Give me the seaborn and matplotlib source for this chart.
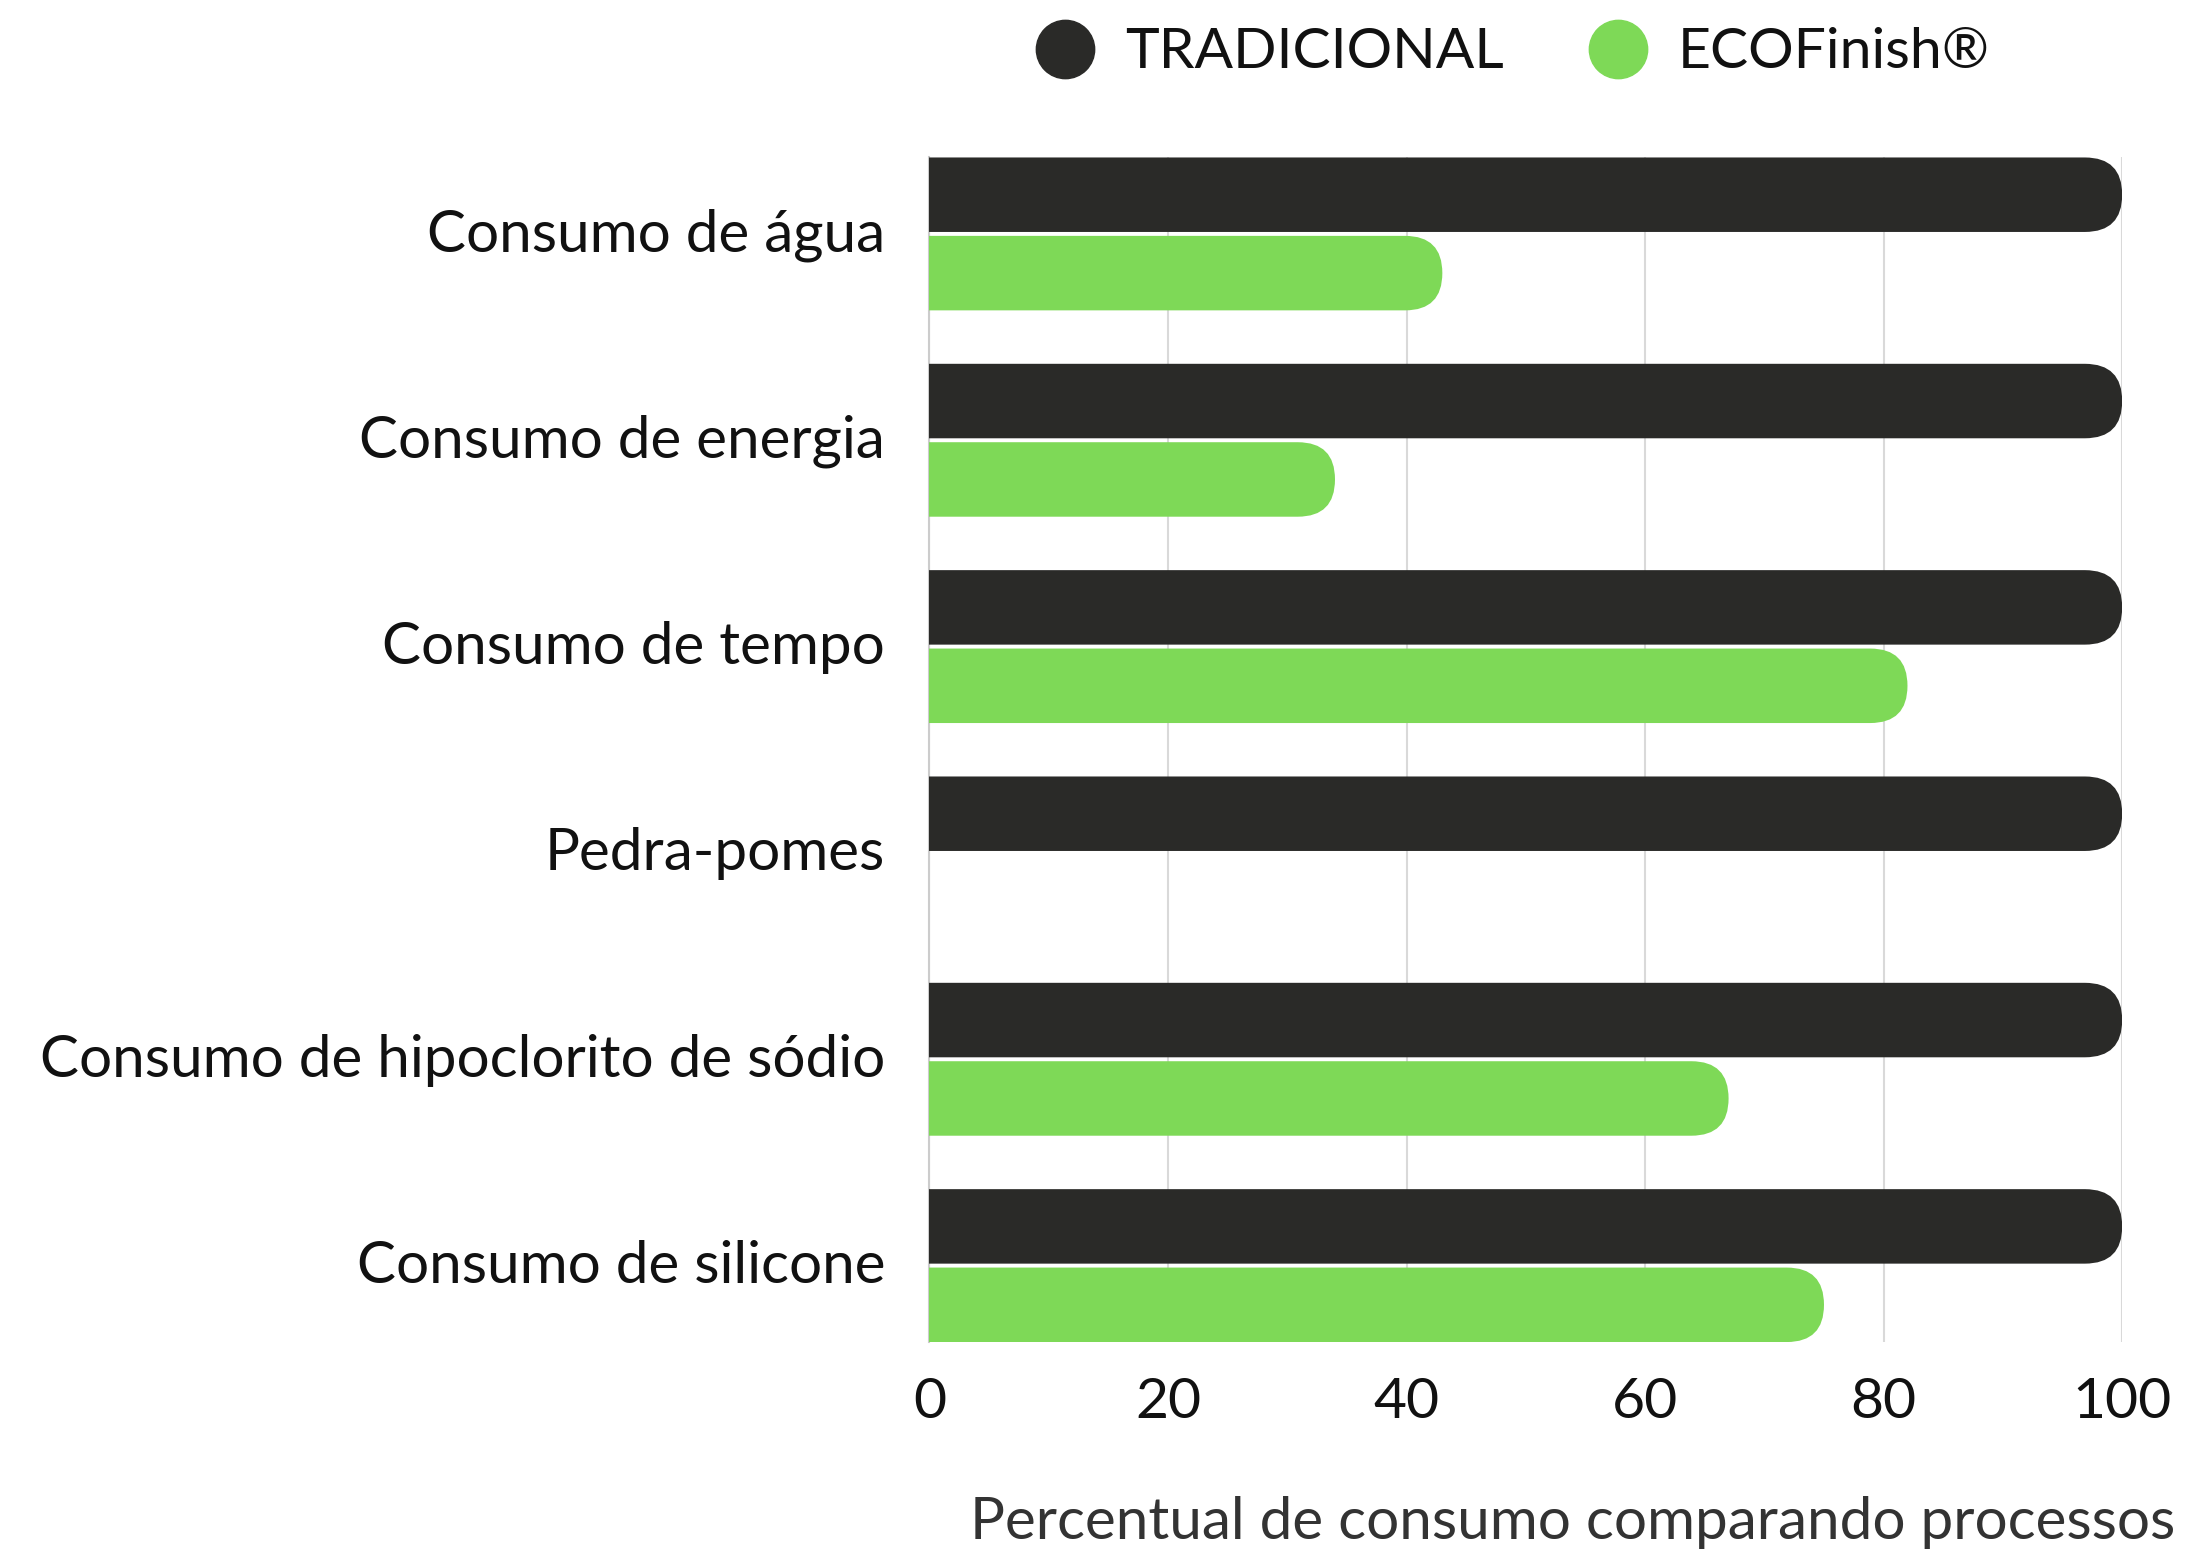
import numpy as np
import pandas as pd
import seaborn as sns
import matplotlib.pyplot as plt
import matplotlib.transforms as mtransforms
from matplotlib.patches import FancyBboxPatch
from matplotlib.lines import Line2D

# dados (percentual de consumo)
categorias = ["Consumo de água", "Consumo de energia", "Consumo de tempo",
              "Pedra-pomes", "Consumo de hipoclorito de sódio", "Consumo de silicone"]
tradicional = [100, 100, 100, 100, 100, 100]
ecofinish = [43, 34, 82, 0, 67, 75]
series = ["TRADICIONAL", "ECOFinish®"]
cores = ["#2a2a28", "#7ed957"]
xticks = [0, 20, 40, 60, 80, 100]

df = pd.DataFrame({
    "categoria": categorias * 2,
    "processo": [series[0]] * len(categorias) + [series[1]] * len(categorias),
    "valor": tradicional + ecofinish,
})

sns.set_theme(style="white")
plt.rcParams['font.family'] = ['Lato', 'DejaVu Sans']

fig = plt.figure(figsize=(21.86, 15.56), dpi=100)
ax = fig.add_axes([0.4252, 0.1375, 0.5456, 0.7613])
sns.barplot(data=df, y="categoria", x="valor", hue="processo", palette=cores,
            orient="h", width=0.76, gap=0.05, saturation=1, legend=False, ax=ax)

ylo, yhi = -0.3705, len(categorias) - 1 + 0.3705
ax.set_xlim(0, 100)
ax.set_ylim(yhi, ylo)

# pontas arredondadas nas barras
bb = ax.get_window_extent()
px_x = bb.width / 100
px_y = bb.height / (yhi - ylo)
for bar in list(ax.patches):
    x0, y0, w, h = bar.get_x(), bar.get_y(), bar.get_width(), bar.get_height()
    fc = bar.get_facecolor()
    bar.remove()
    if w <= 0:
        continue
    ry = abs(h) / 2
    rx = ry * px_y / px_x
    p = FancyBboxPatch((x0 - rx, y0), w + rx, h,
                       boxstyle=f"round,pad=0,rounding_size={rx}",
                       mutation_aspect=ry / rx, fc=fc, ec="none", lw=0, zorder=3)
    ax.add_patch(p)

ax.set_axisbelow(True)
ax.grid(axis="x", color="#d9d9d9", lw=1.5)
ax.grid(axis="y", visible=False)
for s in ["top", "right", "bottom"]:
    ax.spines[s].set_visible(False)
ax.spines["left"].set_color("#cccccc")
ax.spines["left"].set_linewidth(1.5)

ax.set_xticks(xticks)
ax.tick_params(axis="x", length=0, labelsize=41, pad=25, colors="#111111")
ax.tick_params(axis="y", length=0, labelsize=42, pad=32, colors="#111111")
# sobe um pouco os rótulos das categorias
desloc = mtransforms.ScaledTranslation(0, 3 / 72, fig.dpi_scale_trans)
for t in ax.get_yticklabels():
    t.set_transform(t.get_transform() + desloc)
ax.set_xlabel("")
ax.set_ylabel("")

fig.text(0.995, 0.011, "Percentual de consumo comparando processos",
         ha="right", va="baseline", fontsize=42, color="#333333")

handles = [Line2D([], [], marker="o", ls="", ms=42, color=c) for c in cores]
fig.legend(handles, series, loc="center left", bbox_to_anchor=(1037 / 2186, 1 - 53 / 1556),
           ncol=2, frameon=False, fontsize=41, handlelength=1, handletextpad=0.55,
           columnspacing=1.5, borderpad=0, borderaxespad=0, labelcolor="#111111")

fig.savefig("out.png", dpi=100)
